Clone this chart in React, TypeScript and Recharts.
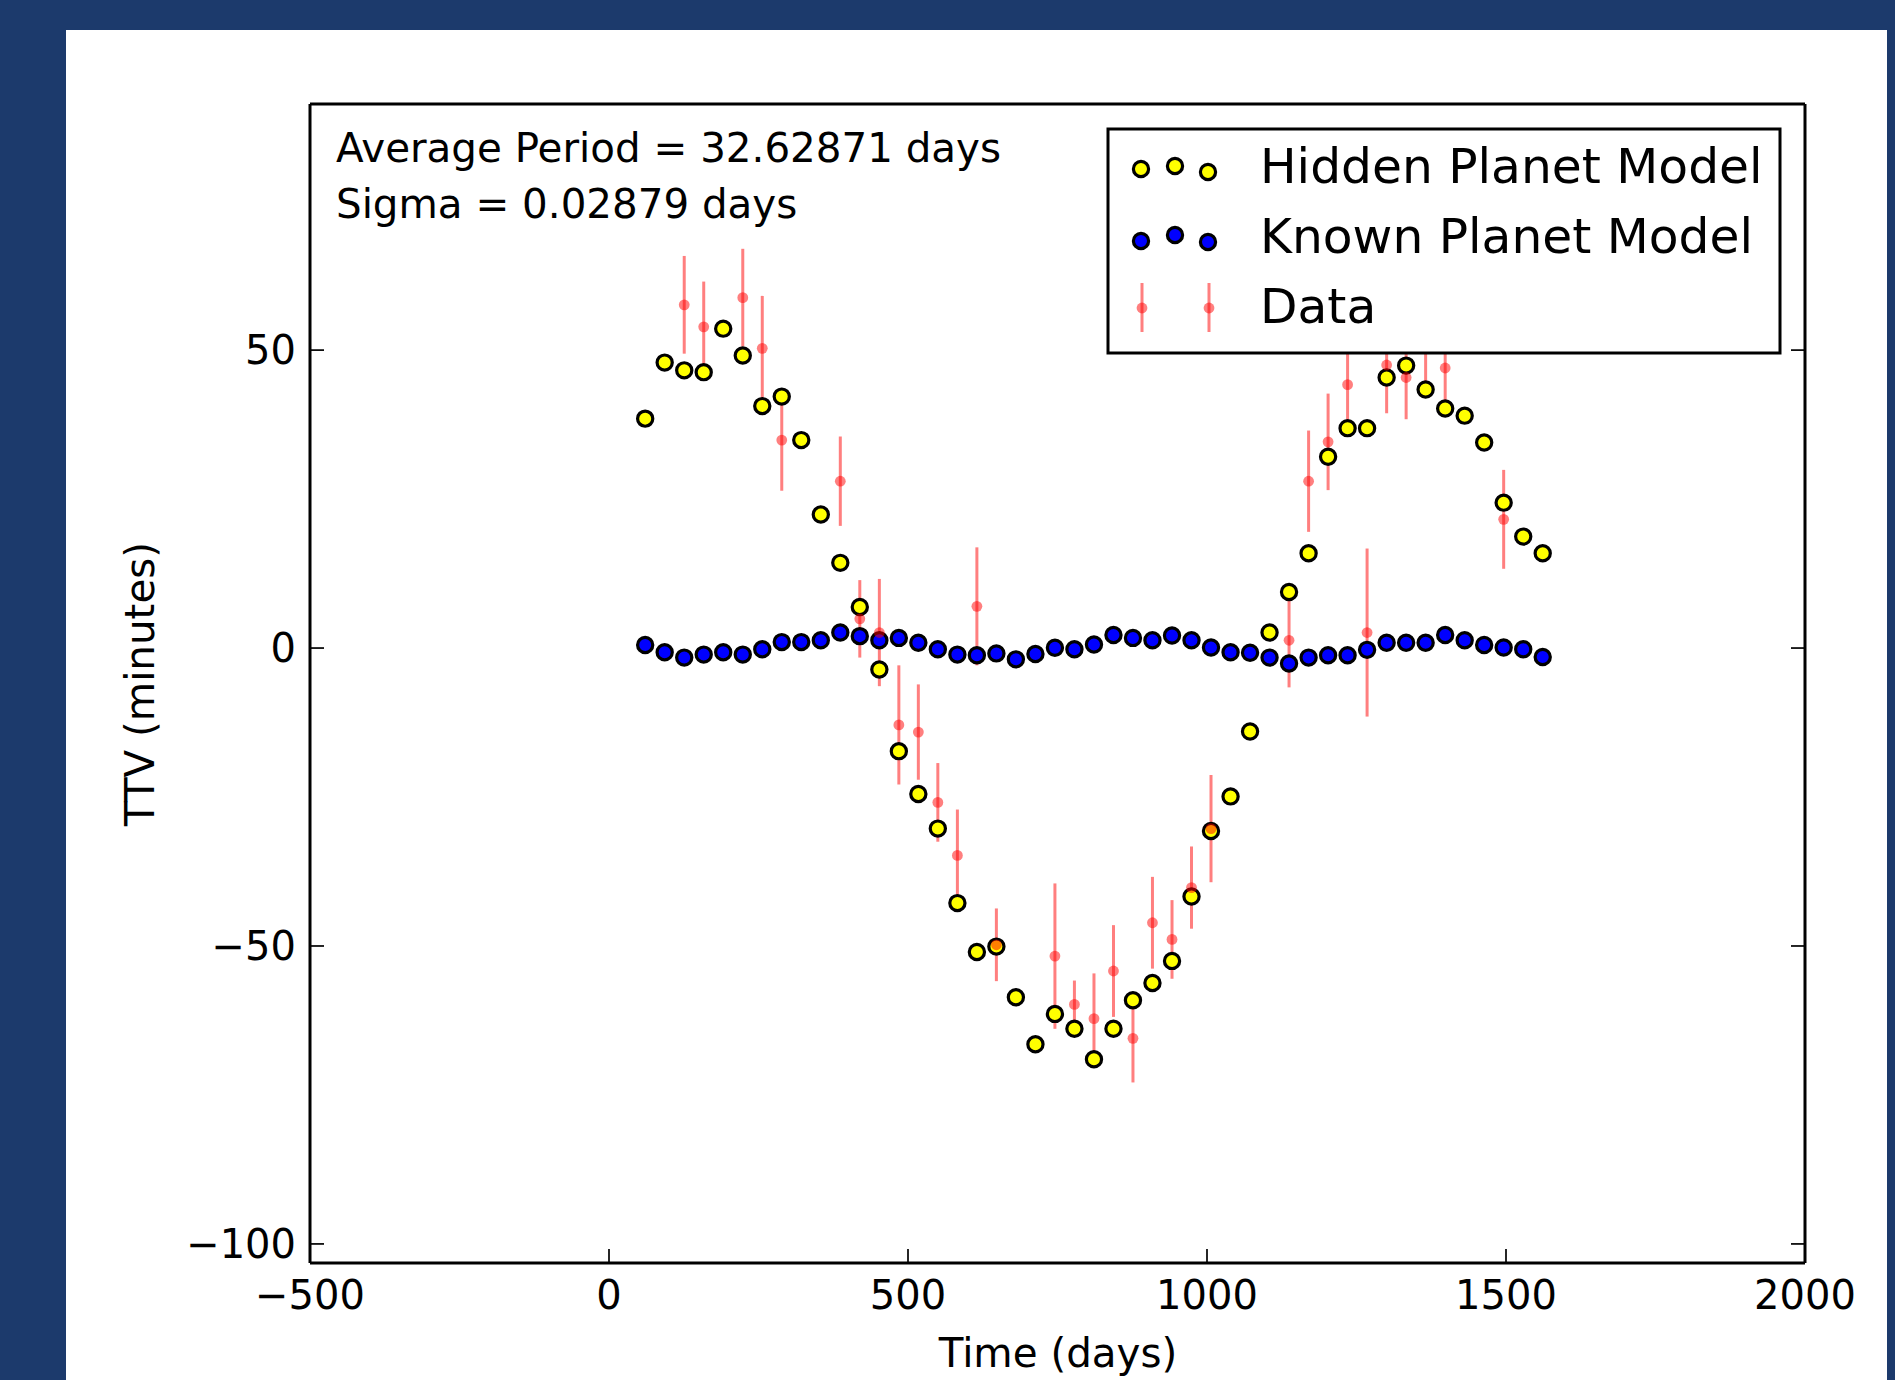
import React from 'react';
import { ComposedChart, Scatter, XAxis, YAxis, ErrorBar } from 'recharts';

// Transit epochs (days)
const epochTimes = [
  60.5, 93.1, 125.8, 158.4, 191.0, 223.7, 256.3, 288.9, 321.5, 354.2,
  386.8, 419.4, 452.1, 484.7, 517.3, 549.9, 582.6, 615.2, 647.8, 680.4,
  713.1, 745.7, 778.3, 811.0, 843.6, 876.2, 908.8, 941.5, 974.1, 1006.7,
  1039.4, 1072.0, 1104.6, 1137.2, 1169.9, 1202.5, 1235.1, 1267.7, 1300.4, 1333.0,
  1365.6, 1398.3, 1430.9, 1463.5, 1496.1, 1528.8, 1561.4,
];

// Hidden planet model TTV (minutes)
const hiddenModel = [
  38.5, 47.9, 46.6, 46.3, 53.6, 49.1, 40.6, 42.2, 34.9, 22.4,
  14.3, 6.9, -3.6, -17.3, -24.5, -30.3, -42.8, -51.0, -50.1, -58.6,
  -66.5, -61.4, -63.9, -69.0, -63.9, -59.1, -56.2, -52.5, -41.7, -30.7,
  -24.9, -14.0, 2.6, 9.4, 15.9, 32.1, 36.9, 36.9, 45.4, 47.4,
  43.4, 40.2, 39.0, 34.5, 24.4, 18.7, 15.9,
];

// Known planet model TTV (minutes)
const knownModel = [
  0.5, -0.7, -1.6, -1.1, -0.7, -1.1, -0.2, 1.0, 1.0, 1.3,
  2.6, 2.0, 1.3, 1.7, 0.9, -0.2, -1.1, -1.2, -0.9, -1.9,
  -1.0, 0.05, -0.2, 0.6, 2.2, 1.7, 1.3, 2.1, 1.3, 0.1,
  -0.7, -0.8, -1.6, -2.6, -1.6, -1.2, -1.2, -0.3, 0.9, 0.9,
  0.9, 2.2, 1.3, 0.5, 0.1, -0.2, -1.5,
];

// Observed data
const dataTimes = [
  125.8, 158.4, 223.7, 256.3, 288.9, 386.8, 419.4, 452.1, 484.7, 517.3,
  549.9, 582.6, 615.2, 647.8, 745.7, 778.3, 811.0, 843.6, 876.2, 908.8,
  941.5, 974.1, 1006.7, 1137.2, 1169.9, 1202.5, 1235.1, 1267.7, 1300.4, 1333.0,
  1365.6, 1398.3, 1496.1,
];
const dataValues = [
  57.6, 53.9, 58.8, 50.3, 34.9, 28.0, 4.9, 2.6, -12.9, -14.1,
  -25.9, -34.8, 7.0, -49.8, -51.7, -59.8, -62.2, -54.2, -65.5, -46.1,
  -48.9, -40.2, -30.3, 1.3, 28.0, 34.6, 44.2, 2.6, 47.5, 45.4,
  51.5, 47.0, 21.6,
];
const dataErrors = [
  8.2, 7.6, 8.2, 8.8, 8.5, 7.5, 6.5, 9.0, 10.0, 8.0,
  6.6, 7.7, 9.9, 6.1, 12.2, 4.0, 7.6, 7.7, 7.4, 7.7,
  6.6, 6.9, 9.0, 7.9, 8.5, 8.1, 7.6, 14.1, 8.1, 7.0,
  8.2, 6.8, 8.3,
];

const xTicks = [-500, 0, 500, 1000, 1500, 2000];
const yTicks = [-100, -50, 0, 50];
const xDomain: [number, number] = [-500, 2000];
const yDomain: [number, number] = [-103.2, 91.3];

const hiddenPts = epochTimes.map((t, i) => ({ t, v: hiddenModel[i] }));
const knownPts = epochTimes.map((t, i) => ({ t, v: knownModel[i] }));
const dataPts = dataTimes.map((t, i) => ({ t, v: dataValues[i], err: dataErrors[i] }));

const FONT = 'DejaVu Sans';
const NAVY = '#1c3a6c';
const RED_A = 'rgba(255,0,0,0.5)';

const fmt = (v: number) => (v < 0 ? '\u2212' + Math.abs(v) : String(v));

const BottomTick = (p: any) => (
  <g>
    <line x1={p.x} x2={p.x} y1={p.y} y2={p.y - 14} stroke="#000" strokeWidth={1.7} />
    <text x={p.x} y={p.y + 46} textAnchor="middle" fontFamily={FONT} fontSize={40} fill="#000">
      {fmt(p.payload.value)}
    </text>
  </g>
);
const TopTick = (p: any) => (
  <line x1={p.x} x2={p.x} y1={p.y} y2={p.y + 14} stroke="#000" strokeWidth={1.7} />
);
const LeftTick = (p: any) => (
  <g>
    <line x1={p.x} x2={p.x + 14} y1={p.y} y2={p.y} stroke="#000" strokeWidth={1.7} />
    <text x={p.x - 14} y={p.y + 14} textAnchor="end" fontFamily={FONT} fontSize={40} fill="#000">
      {fmt(p.payload.value)}
    </text>
  </g>
);
const RightTick = (p: any) => (
  <line x1={p.x} x2={p.x - 14} y1={p.y} y2={p.y} stroke="#000" strokeWidth={1.7} />
);

const YellowDot = (p: any) => (
  <circle cx={p.cx} cy={p.cy} r={7.6} fill="#ffff00" stroke="#000" strokeWidth={3.2} />
);
const BlueDot = (p: any) => (
  <circle cx={p.cx} cy={p.cy} r={7.6} fill="#0000ff" stroke="#000" strokeWidth={3.2} />
);
const RedDot = (p: any) => <circle cx={p.cx} cy={p.cy} r={5.4} fill={RED_A} />;

const Overlay = () => (
  <svg
    width={1895}
    height={1380}
    style={{ position: 'absolute', left: 0, top: 0, pointerEvents: 'none' }}
  >
    <text x={336} y={162} fontFamily={FONT} fontSize={40.4} fill="#000">
      Average Period = 32.62871 days
    </text>
    <text x={336} y={218} fontFamily={FONT} fontSize={40.4} fill="#000">
      Sigma = 0.02879 days
    </text>
    <text x={1058} y={1367} textAnchor="middle" fontFamily={FONT} fontSize={40.4} fill="#000">
      Time (days)
    </text>
    <text
      x={154}
      y={684}
      textAnchor="middle"
      transform="rotate(-90 154 684)"
      fontFamily={FONT}
      fontSize={40.4}
      fill="#000"
    >
      TTV (minutes)
    </text>
    {/* Legend */}
    <rect x={1108} y={129} width={672} height={224} fill="#fff" stroke="#000" strokeWidth={3} />
    <circle cx={1141} cy={169} r={7.6} fill="#ffff00" stroke="#000" strokeWidth={3.2} />
    <circle cx={1175} cy={166} r={7.6} fill="#ffff00" stroke="#000" strokeWidth={3.2} />
    <circle cx={1208} cy={172} r={7.6} fill="#ffff00" stroke="#000" strokeWidth={3.2} />
    <circle cx={1141} cy={241} r={7.6} fill="#0000ff" stroke="#000" strokeWidth={3.2} />
    <circle cx={1175} cy={235} r={7.6} fill="#0000ff" stroke="#000" strokeWidth={3.2} />
    <circle cx={1208} cy={242} r={7.6} fill="#0000ff" stroke="#000" strokeWidth={3.2} />
    <line x1={1142} x2={1142} y1={283} y2={332} stroke={RED_A} strokeWidth={3} />
    <circle cx={1142} cy={308} r={5.4} fill={RED_A} />
    <line x1={1209} x2={1209} y1={283} y2={332} stroke={RED_A} strokeWidth={3} />
    <circle cx={1209} cy={308} r={5.4} fill={RED_A} />
    <text x={1260} y={183} fontFamily={FONT} fontSize={48.7} fill="#000">Hidden Planet Model</text>
    <text x={1260} y={253} fontFamily={FONT} fontSize={48.7} fill="#000">Known Planet Model</text>
    <text x={1260} y={323} fontFamily={FONT} fontSize={48.7} fill="#000">Data</text>
  </svg>
);

export default function App() {
  return (
    <div
      style={{
        position: 'absolute',
        left: 0,
        top: 0,
        width: 1895,
        height: 1380,
        background: NAVY,
        overflow: 'hidden',
      }}
    >
      <div
        style={{ position: 'absolute', left: 66, top: 30, width: 1821, height: 1350, background: '#fff' }}
      />
      <div style={{ position: 'absolute', left: 0, top: 0 }}>
        <ComposedChart
          width={1895}
          height={1380}
          margin={{ left: 210, right: 80, top: 94, bottom: 57 }}
        >
          <XAxis
            xAxisId="b"
            type="number"
            dataKey="t"
            domain={xDomain}
            ticks={xTicks}
            allowDataOverflow
            height={60}
            tickSize={0}
            tickMargin={0}
            tickLine={false}
            axisLine={{ stroke: '#000', strokeWidth: 3 }}
            tick={BottomTick}
            interval={0}
          />
          <XAxis
            xAxisId="top"
            orientation="top"
            type="number"
            domain={xDomain}
            ticks={xTicks}
            allowDataOverflow
            height={10}
            tickSize={0}
            tickMargin={0}
            tickLine={false}
            axisLine={{ stroke: '#000', strokeWidth: 3 }}
            tick={TopTick}
            interval={0}
          />
          <YAxis
            yAxisId="l"
            type="number"
            dataKey="v"
            domain={yDomain}
            ticks={yTicks}
            allowDataOverflow
            width={100}
            tickSize={0}
            tickMargin={0}
            tickLine={false}
            axisLine={{ stroke: '#000', strokeWidth: 3 }}
            tick={LeftTick}
            interval={0}
          />
          <YAxis
            yAxisId="r"
            orientation="right"
            type="number"
            domain={yDomain}
            ticks={yTicks}
            allowDataOverflow
            width={10}
            tickSize={0}
            tickMargin={0}
            tickLine={false}
            axisLine={{ stroke: '#000', strokeWidth: 3 }}
            tick={RightTick}
            interval={0}
          />
          <Scatter
            xAxisId="b"
            yAxisId="l"
            name="Known Planet Model"
            data={knownPts}
            dataKey="v"
            shape={BlueDot}
            isAnimationActive={false}
          />
          <Scatter
            xAxisId="b"
            yAxisId="l"
            name="Hidden Planet Model"
            data={hiddenPts}
            dataKey="v"
            shape={YellowDot}
            isAnimationActive={false}
          />
          <Scatter
            xAxisId="b"
            yAxisId="l"
            name="Data"
            data={dataPts}
            dataKey="v"
            shape={RedDot}
            isAnimationActive={false}
          >
            <ErrorBar
              dataKey="err"
              direction="y"
              width={0}
              stroke={RED_A}
              strokeWidth={3}
              isAnimationActive={false}
            />
          </Scatter>
        </ComposedChart>
      </div>
      <Overlay />
    </div>
  );
}
